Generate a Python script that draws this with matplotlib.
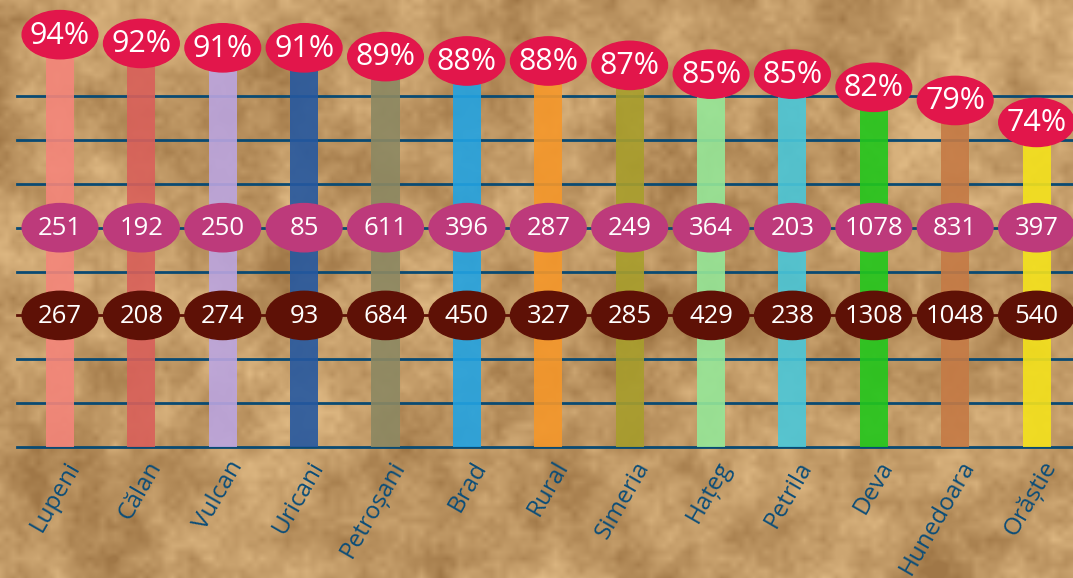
import numpy as np
import matplotlib
matplotlib.use('Agg')
import matplotlib.pyplot as plt
from matplotlib.patches import Ellipse

# Date
orase = ['Lupeni', 'Călan', 'Vulcan', 'Uricani', 'Petroșani', 'Brad', 'Rural',
         'Simeria', 'Hațeg', 'Petrila', 'Deva', 'Hunedoara', 'Orăștie']
procente = [94, 92, 91, 91, 89, 88, 88, 87, 85, 85, 82, 79, 74]
valori_mijloc = [251, 192, 250, 85, 611, 396, 287, 249, 364, 203, 1078, 831, 397]
valori_jos = [267, 208, 274, 93, 684, 450, 327, 285, 429, 238, 1308, 1048, 540]
culori = ['#F4857A', '#D9605A', '#BBA5E0', '#2558A0', '#8C8862', '#22A3E2', '#F5972A',
          '#A89E2C', '#95E798', '#4AC7D9', '#22C71C', '#C57A45', '#F4E21C']

plt.rcParams['font.family'] = ['Open Sans', 'DejaVu Sans']

fig = plt.figure(figsize=(10.73, 5.78), dpi=100)

# fundal tip pergament
bg = fig.add_axes([0, 0, 1, 1], zorder=-10)
rng = np.random.default_rng(7)
H, W = 578, 1073
tex = np.zeros((H, W))
for s, w in [(4, 0.35), (10, 0.6), (30, 0.5), (90, 0.3)]:
    step = H / s
    small = rng.random((s + 2, int(W / step) + 2))
    yi = np.linspace(0, small.shape[0] - 1.001, H)
    xi = np.linspace(0, small.shape[1] - 1.001, W)
    y0 = yi.astype(int); x0 = xi.astype(int)
    fy = (yi - y0)[:, None]; fx = (xi - x0)[None, :]
    a = small[y0][:, x0]; b = small[y0][:, x0 + 1]
    c = small[y0 + 1][:, x0]; d = small[y0 + 1][:, x0 + 1]
    tex += w * ((a * (1 - fx) + b * fx) * (1 - fy) + (c * (1 - fx) + d * fx) * fy)
tex = (tex - tex.min()) / (tex.max() - tex.min())
tex = np.clip((tex - 0.5) * 1.3 + 0.5, 0, 1)
dark = np.array([0.63, 0.47, 0.28])
light = np.array([0.87, 0.72, 0.51])
img = dark + (light - dark) * tex[..., None]
bg.imshow(img, aspect='auto', extent=[0, 1, 0, 1], interpolation='bilinear')
bg.axis('off')

ax = fig.add_axes([0.018, 0.2266, 0.986, 0.7734])
ax.set_facecolor('none')
x = np.arange(len(orase))
ax.set_xlim(-0.5, len(orase) - 0.5)
ax.set_ylim(0, 101.9)

for v in range(0, 90, 10):
    col = '#5E1106' if v == 30 else '#0A4A72'
    ax.plot([-0.53, len(orase)], [v, v], color=col, lw=2, zorder=1, clip_on=False)

ax.bar(x, procente, width=0.345, color=culori, alpha=0.9, zorder=2)

ew, eh = 0.93, 11.0
for i in range(len(orase)):
    ax.add_patch(Ellipse((x[i], procente[i]), ew, eh, color='#E2164B', zorder=4))
    ax.text(x[i], procente[i] - 0.2, f'{procente[i]}%', ha='center', va='center',
            color='white', fontsize=22, zorder=5)
    ax.add_patch(Ellipse((x[i], 50), ew, eh, color='#BD3A7B', zorder=4))
    ax.text(x[i], 49.8, str(valori_mijloc[i]), ha='center', va='center',
            color='white', fontsize=18.5, zorder=5)
    ax.add_patch(Ellipse((x[i], 30), ew, eh, color='#5E1106', zorder=4))
    ax.text(x[i], 29.8, str(valori_jos[i]), ha='center', va='center',
            color='white', fontsize=18.5, zorder=5)

ax.set_xticks(x + 0.05)
ax.set_xticklabels(orase, rotation=60, ha='right', rotation_mode='anchor',
                   color='#0B4D78', fontsize=17.5)
ax.tick_params(axis='x', length=0, pad=7)
ax.set_yticks([])
for s in ax.spines.values():
    s.set_visible(False)

plt.savefig('out.png', dpi=100)
plt.close()
